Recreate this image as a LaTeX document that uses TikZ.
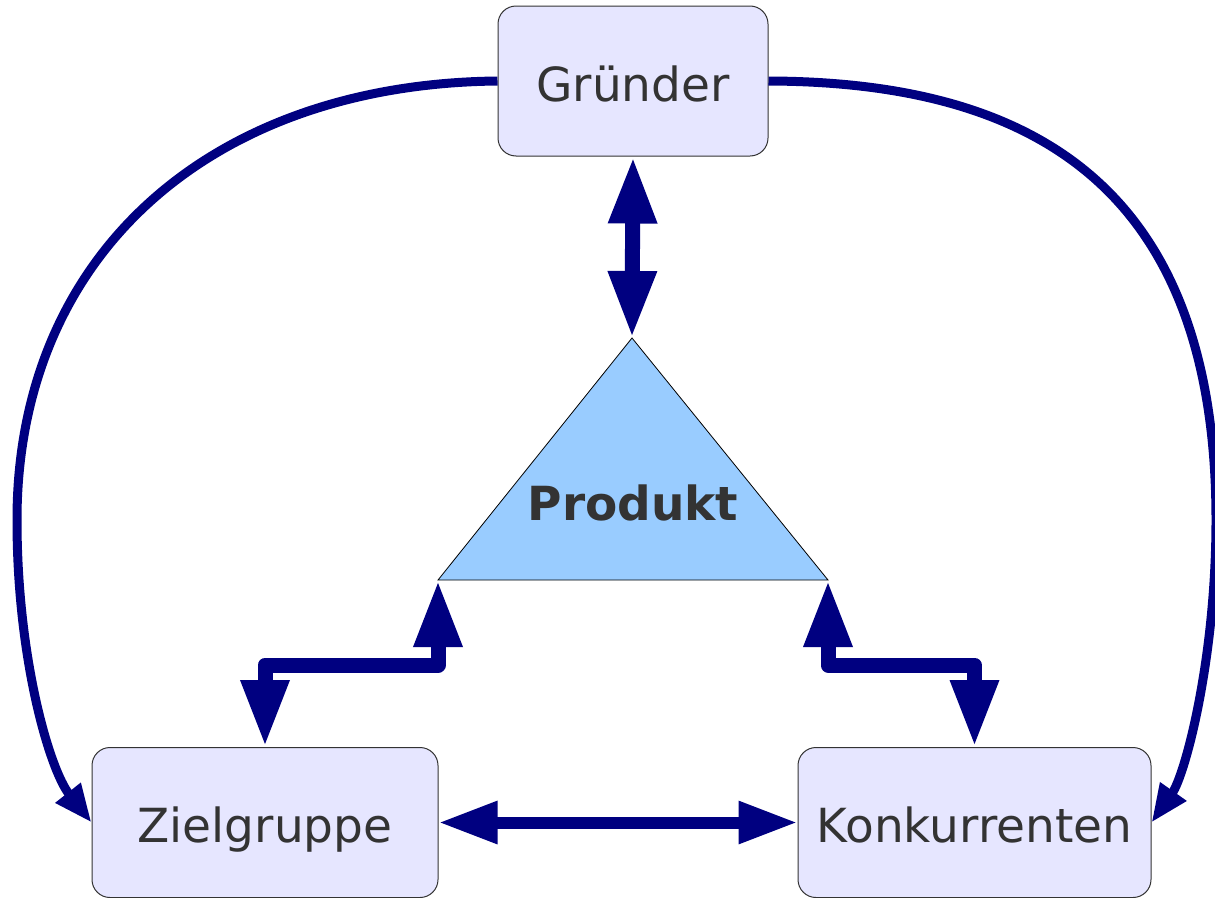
\documentclass[tikz,border=0pt]{standalone}
\usepackage{fontspec}
\setmainfont{DejaVu Sans}
\usetikzlibrary{arrows.meta}
\definecolor{navy}{RGB}{0,0,128}
\definecolor{boxfill}{RGB}{230,230,255}
\definecolor{prodfill}{RGB}{153,204,255}
\definecolor{txt}{RGB}{51,51,51}
\begin{document}
\begin{tikzpicture}[x=1pt,y=-1pt,
  box/.style={draw=black!80, line width=1pt, fill=boxfill, rounded corners=18pt,
    minimum height=150pt, inner sep=0pt, text=txt,
    font=\fontsize{47}{56}\selectfont, text height=40pt, text depth=0pt},
  label/.style={text=txt, inner sep=0pt, font=\bfseries\fontsize{47}{56}\selectfont,
    text height=40pt, text depth=0pt},
  link/.style={draw=navy, line width=15pt, line join=round},
  bighead/.style={{Triangle[width=45pt,length=67pt]}-{Triangle[width=45pt,length=67pt]}},
  medhead/.style={{Triangle[width=40pt,length=59pt]}-{Triangle[width=40pt,length=59pt]}},
  curve/.style={draw=navy, line width=9pt, -{Triangle[width=30pt,length=38pt]}}
]
\useasboundingbox (0,0) rectangle (1215,897);

% the three actors
\node[box, minimum width=270pt] (g) at (633,81) {Gründer};
\node[box, minimum width=346pt] (z) at (265,822.5) {Zielgruppe};
\node[box, minimum width=353pt] (k) at (974.5,822.5) {Konkurrenten};

% product triangle
\coordinate (apex) at (632,338);
\coordinate (pl) at (438,580);
\coordinate (pr) at (828,580);
\filldraw[fill=prodfill, draw=black, line width=0.8pt] (apex) -- (pr) -- (pl) -- cycle;
\node[label] (prod) at (633,500) {Produkt};

% outer bends of the two long curves
\coordinate (lw) at (17,520);
\coordinate (re) at (1216,520);

% straight and elbow links
\draw[link, bighead] (g.south) -- (apex);
\draw[link, bighead] (pl) -- ([yshift=-85pt]pl) -| (z.north);
\draw[link, bighead] (pr) -- ([yshift=-85pt]pr) -| (k.north);
\draw[link, line width=12pt, medhead] (z.east) -- (k.west);

% long curves from the founder
\draw[curve] (g.west) .. controls (209,84) and (17,256) .. (lw)
  .. controls (17,660) and (50,770) .. (z.west);
\draw[curve] (g.east) .. controls (1037,82) and (1216,190) .. (re)
  .. controls (1216,660) and (1185,775) .. (k.east);
\end{tikzpicture}
\end{document}
